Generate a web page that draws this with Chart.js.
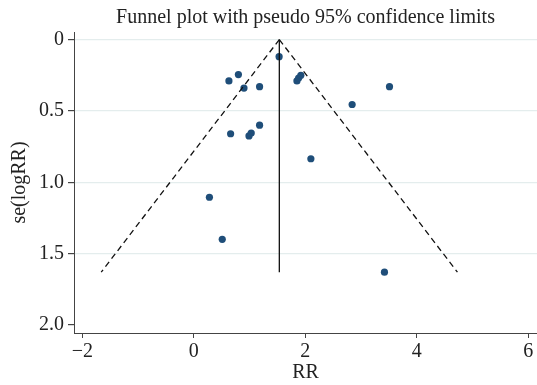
<!DOCTYPE html>
<html>
<head>
<meta charset="utf-8">
<script src="https://cdn.jsdelivr.net/npm/chart.js@4/dist/chart.umd.min.js"></script>
<style>
  body { margin: 0; background: #fff; }
  #wrap { width: 537px; height: 385px; }
</style>
</head>
<body>
<div id="wrap"><canvas id="funnel" width="537" height="385"></canvas></div>
<script>
// ================== Dados ==================
const rr = [1.53, 0.63, 0.80, 0.90, 1.18, 1.85, 1.88, 1.92, 3.51, 2.84, 1.18, 0.66, 0.99, 1.03, 2.10, 0.28, 0.51, 3.42];
const se = [0.12, 0.29, 0.245, 0.34, 0.33, 0.29, 0.27, 0.25, 0.33, 0.455, 0.60, 0.66, 0.675, 0.655, 0.835, 1.105, 1.40, 1.63];
const pooledRR = 1.534;
const seMax = 1.63;
const z95 = 1.96;

const xTicks = [-2, 0, 2, 4, 6];
const yTicks = [0, 0.5, 1.0, 1.5, 2.0];
const yTickLabels = ['0', '0.5', '1.0', '1.5', '2.0'];

const fonte = 'Liberation Serif';
const corTexto = '#222';
const corEixo = '#444';
const corGrade = '#e4eded';

// ================== Datasets ==================
const pontos = rr.map((v, i) => ({ x: v, y: se[i] }));
const limiteEsq = [{ x: pooledRR, y: 0 }, { x: pooledRR - z95 * seMax, y: seMax }];
const limiteDir = [{ x: pooledRR, y: 0 }, { x: pooledRR + z95 * seMax, y: seMax }];
const linhaCentral = [{ x: pooledRR, y: 0 }, { x: pooledRR, y: seMax }];

function linha(data, dash, width) {
  return {
    type: 'line', data, borderColor: '#111', borderWidth: width, borderDash: dash,
    pointRadius: 0, fill: false, tension: 0
  };
}

const ctx = document.getElementById('funnel').getContext('2d');
new Chart(ctx, {
  type: 'scatter',
  data: {
    datasets: [
      linha(limiteEsq, [6, 4], 1.3),
      linha(limiteDir, [6, 4], 1.3),
      linha(linhaCentral, [], 1.3),
      {
        type: 'scatter', data: pontos,
        backgroundColor: '#1f4e79', borderColor: '#1f4e79',
        pointRadius: 3.6, borderWidth: 0
      }
    ]
  },
  options: {
    responsive: false,
    animation: false,
    layout: { autoPadding: false, padding: { left: 0, right: 0, top: 0, bottom: 0 } },
    plugins: {
      legend: { display: false },
      tooltip: { enabled: false },
      title: {
        display: true,
        text: 'Funnel plot with pseudo 95% confidence limits',
        fullSize: false,
        color: corTexto,
        font: { family: fonte, size: 20, weight: 'normal' },
        padding: { top: 6, bottom: 2 }
      }
    },
    scales: {
      x: {
        type: 'linear',
        min: -2.149, max: 6.156,
        afterBuildTicks: s => { s.ticks = xTicks.map(v => ({ value: v })); },
        afterFit: s => { s.height = 52; s.paddingRight = 0; s.paddingLeft = 0; },
        ticks: {
          color: corTexto, font: { family: fonte, size: 20 }, padding: 2,
          maxRotation: 0, autoSkip: false,
          callback: v => (v < 0 ? '\u2212' + Math.abs(v) : String(v))
        },
        grid: { drawOnChartArea: false, tickColor: corEixo, tickLength: 5 },
        border: { color: corEixo, width: 1 },
        title: {
          display: true, text: 'RR', color: corTexto,
          font: { family: fonte, size: 20 }, padding: { top: 0, bottom: 0 }
        }
      },
      y: {
        type: 'linear',
        reverse: true,
        min: -0.053, max: 2.056,
        afterBuildTicks: s => { s.ticks = yTicks.map(v => ({ value: v })); },
        afterFit: s => { s.width = 74; },
        ticks: {
          color: corTexto, font: { family: fonte, size: 20 }, padding: 4,
          autoSkip: false,
          callback: v => yTickLabels[yTicks.indexOf(v)]
        },
        grid: {
          color: c => (c.tick && c.tick.value === 2 ? 'rgba(0,0,0,0)' : corGrade),
          tickColor: corEixo, tickLength: 6, lineWidth: 1.2
        },
        border: { color: corEixo, width: 1 },
        title: {
          display: true, text: 'se(logRR)', color: corTexto,
          font: { family: fonte, size: 20 }, padding: { top: 8, bottom: 0 }
        }
      }
    }
  }
});
</script>
</body>
</html>
